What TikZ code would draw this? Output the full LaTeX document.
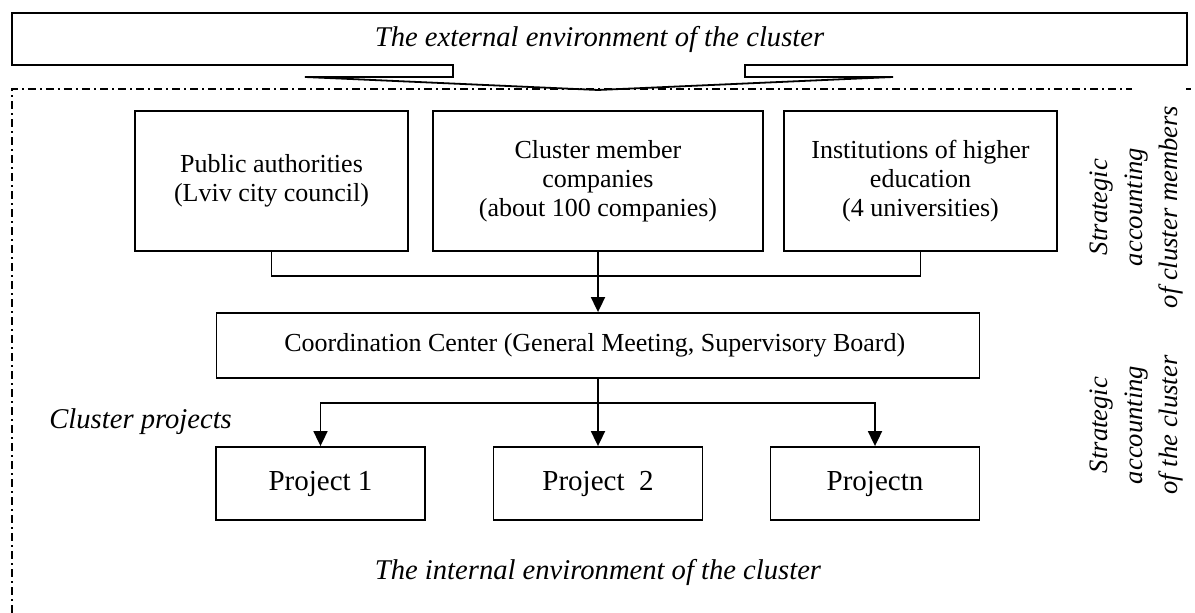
\documentclass[tikz,border=0pt]{standalone}
\usepackage{fontspec}
\setmainfont{Liberation Serif}
\usetikzlibrary{positioning,arrows.meta}

\begin{document}
\begin{tikzpicture}[x=0.5pt, y=-0.5pt,
    member/.style={
        draw=black,
        rectangle,
        line width=0.9pt,
        align=center,
        inner sep=0pt,
        font=\fontsize{13}{14.5}\selectfont
    },
    project/.style={
        draw=black,
        rectangle,
        line width=0.9pt,
        align=center,
        inner sep=0pt,
        minimum width=104.5pt,
        minimum height=36.5pt,
        font=\fontsize{14.5}{16}\selectfont
    },
    caption/.style={
        align=center,
        inner sep=0pt,
        font=\fontsize{14.3}{16}\selectfont\itshape
    },
    side/.style={
        align=center,
        inner sep=0pt,
        rotate=90,
        font=\fontsize{13.3}{17.5}\selectfont\itshape
    },
    link/.style={
        line width=0.9pt
    },
    flow/.style={
        -{Triangle[length=7.5pt,width=7pt]},
        line width=0.9pt
    },
    dashdot/.style={
        line width=0.8pt,
        dash pattern=on 4pt off 2pt on 1pt off 2pt
    }
]
    \useasboundingbox (0,0) rectangle (1195,613);

    % External environment with its pointer
    \node[caption] (external) at (599.5,39) {The external environment of the cluster};
    \draw[link] (12,13) -- (1187,13) -- (1187,65) -- (745,65) -- (745,77) -- (893,77)
        -- (598,90) -- (305,77) -- (453,77) -- (453,65) -- (12,65) -- cycle;

    % Internal environment frame
    \draw[dashdot] (12,613) -- (12,89) -- (1132,89);
    \draw[dashdot] (1186,89) -- (1191,89);

    % Cluster members
    \node[member, minimum width=136.5pt, minimum height=70pt] (public) at (271.5,181) {
        Public authorities\\(Lviv city council)
    };
    \node[member, minimum width=165pt, minimum height=70pt] (companies) at (598,181) {
        Cluster member\\companies\\(about 100 companies)
    };
    \node[member, minimum width=136.5pt, minimum height=70pt] (education) at (920.5,181) {
        Institutions of higher\\education\\(4 universities)
    };

    % Coordination center
    \node[member, minimum width=381.5pt, minimum height=32.5pt] (center) at (598,345.5) {
        Coordination Center (General Meeting, Supervisory Board)
    };

    % Cluster projects
    \node[caption, anchor=base west] (projects) at (49,429) {Cluster projects};
    \node[project] (proj1) at (320.5,483.5) {Project 1};
    \node[project] (proj2) at (598,483.5) {Project~~2};
    \node[project] (projn) at (875,483.5) {Projectn};

    \node[caption] (internal) at (598,572) {The internal environment of the cluster};

    % Strategic accounting labels
    \node[side] (acc members) at (1137,207) {Strategic\\accounting\\of cluster members};
    \node[side] (acc cluster) at (1137,425) {Strategic\\accounting\\of the cluster};

    % Connectors
    \coordinate (join) at (598,276);
    \coordinate (split) at (598,403);
    \draw[link] (public.south) |- (join) -| (education.south);
    \draw[flow] (companies.south) -- (center.north);
    \draw[link] (center.south) -- (split);
    \draw[flow] (split) -| (proj1.north);
    \draw[flow] (split) -- (proj2.north);
    \draw[flow] (split) -| (projn.north);
\end{tikzpicture}
\end{document}
